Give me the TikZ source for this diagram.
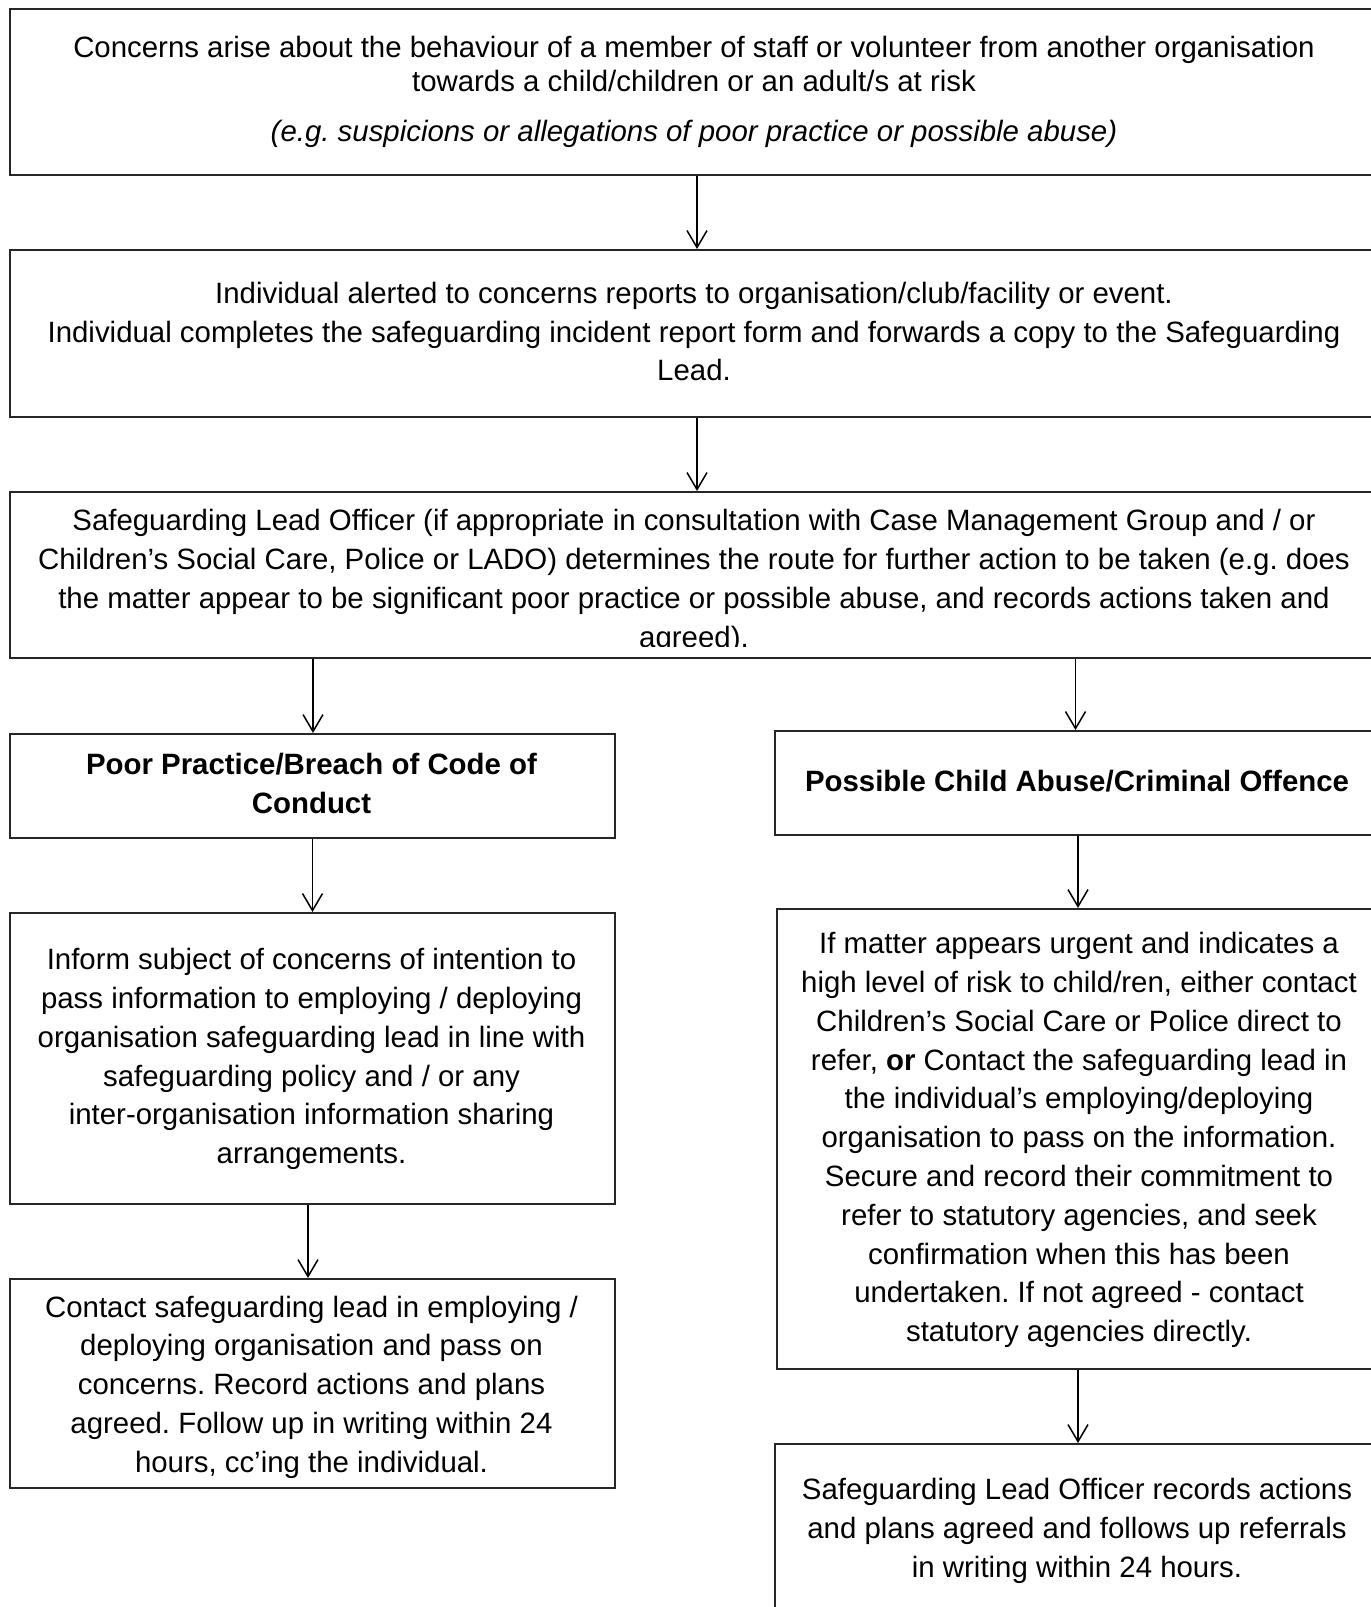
\documentclass[tikz,border=0pt]{standalone}
\usepackage{fontspec}
\setmainfont{Liberation Sans}
\usetikzlibrary{arrows.meta}
\frenchspacing
\begin{document}
\begin{tikzpicture}[x=0.5pt,y=-0.5pt,
  boxs/.style={draw=black!85, line width=0.9pt, inner sep=0pt, anchor=north west},
  txt/.style={align=center, inner sep=0pt, font=\fontsize{14.7}{19.4}\selectfont},
  btxt/.style={txt, font=\bfseries\fontsize{14.7}{19.4}\selectfont},
  arr/.style={draw=black, line width=0.75pt, -{Straight Barb[length=8.5pt,width=10pt]}}]
\useasboundingbox (0,0) rectangle (1371,1607);
\clip (0,0) rectangle (1371,1607);
% boxes
\node[boxs, minimum width=685.5pt, minimum height=83pt] (b1) at (9,8) {};
\node[boxs, minimum width=685.5pt, minimum height=83.5pt] (b2) at (9,249) {};
\node[boxs, minimum width=685.5pt, minimum height=83pt] (b3) at (9,491) {};
\node[boxs, minimum width=302.5pt, minimum height=52pt] (b4) at (9,733) {};
\node[boxs, minimum width=303pt, minimum height=52pt] (b5) at (774,730) {};
\node[boxs, minimum width=302.5pt, minimum height=145.5pt] (b6) at (9,912) {};
\node[boxs, minimum width=302pt, minimum height=230pt] (b7) at (776,908) {};
\node[boxs, minimum width=302.5pt, minimum height=104.5pt] (b8) at (9,1278) {};
\node[boxs, minimum width=303pt, minimum height=88.5pt] (b9) at (774,1443) {};
% texts
\node[txt, font=\fontsize{14.7}{16.9}\selectfont] (t1) at (694,92) {Concerns arise about the behaviour of a member of staff or volunteer from another organisation\\towards a child/children or an adult/s at risk\\[8.3pt]\textit{(e.g. suspicions or allegations of poor practice or possible abuse)}};
\node[txt] (t2) at (694,331.5) {Individual alerted to concerns reports to organisation/club/facility or event.\\Individual completes the safeguarding incident report form and forwards a copy to the Safeguarding\\Lead.};
\begin{scope}
\clip (9,491) rectangle (1380,646);
\node[txt] (t3) at (694,581.5) {Safeguarding Lead Officer (if appropriate in consultation with Case Management Group and / or\\Children’s Social Care, Police or LADO) determines the route for further action to be taken (e.g. does\\the matter appear to be significant poor practice or possible abuse, and records actions taken and\\agreed).};
\end{scope}
\node[btxt] (t4) at (311.5,783.5) {Poor Practice/Breach of Code of\\Conduct};
\node[btxt] (t5) at (1077,781) {Possible Child Abuse/Criminal Offence};
\node[txt] (t6) at (311.5,1059) {Inform subject of concerns of intention to\\pass information to employing / deploying\\organisation safeguarding lead in line with\\safeguarding policy and / or any\\inter-organisation information sharing\\arrangements.};
\node[txt] (t7) at (1079,1140) {If matter appears urgent and indicates a\\high level of risk to child/ren, either contact\\Children’s Social Care or Police direct to\\refer, \textbf{or} Contact the safeguarding lead in\\the individual’s employing/deploying\\organisation to pass on the information.\\Secure and record their commitment to\\refer to statutory agencies, and seek\\confirmation when this has been\\undertaken. If not agreed - contact\\statutory agencies directly.};
\node[txt] (t8) at (311.5,1387) {Contact safeguarding lead in employing /\\deploying organisation and pass on\\concerns. Record actions and plans\\agreed. Follow up in writing within 24\\hours, cc’ing the individual.};
\node[txt] (t9) at (1077,1531) {Safeguarding Lead Officer records actions\\and plans agreed and follows up referrals\\in writing within 24 hours.};
% connector x positions
\coordinate (xa) at (697,0);
\coordinate (xl1) at (313,0);
\coordinate (xl2) at (312.5,0);
\coordinate (xl3) at (308,0);
\coordinate (xr1) at (1075.5,0);
\coordinate (xr2) at (1078,0);
\draw[arr] (b1.south -| xa) -- (b2.north -| xa);
\draw[arr] (b2.south -| xa) -- (b3.north -| xa);
\draw[arr] (b3.south -| xl1) -- (b4.north -| xl1);
\draw[arr] (b3.south -| xr1) -- (b5.north -| xr1);
\draw[arr] (b4.south -| xl2) -- (b6.north -| xl2);
\draw[arr] (b5.south -| xr2) -- (b7.north -| xr2);
\draw[arr] (b6.south -| xl3) -- (b8.north -| xl3);
\draw[arr] (b7.south -| xr2) -- (b9.north -| xr2);
\end{tikzpicture}
\end{document}
